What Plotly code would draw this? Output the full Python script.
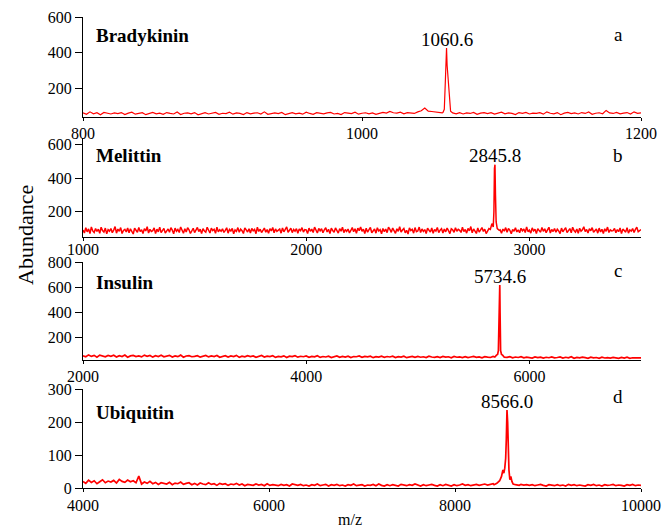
import numpy as np
import plotly.graph_objects as go

# ---------------- data ----------------
panel_names = ["Bradykinin", "Melittin", "Insulin", "Ubiquitin"]
panel_letters = ["a", "b", "c", "d"]
peak_labels = ["1060.6", "2845.8", "5734.6", "8566.0"]

# baseline noise grids (start, step) and intensities
a_start, a_step = 800, 2.5
a_noise = [60,52,66,55,61,50,63,57,54,60,
           56,62,51,59,64,53,58,61,50,57,
           63,55,59,52,62,57,54,65,51,58,
           60,55,62,49,57,61,54,59,63,52,
           58,56,64,53,60,57,51,62,55,59,
           61,54,66,52,58,60,56,63,50,57,
           62,55,59,53,64,57,52,61,58,55,
           60,63,54,57,51,62,59,56,64,53,
           58,61,55,60,52,57,63,59,68,61,
           59,64,55,62,58,57,66,72,88,70,
           68,64,62,60,62,60,58,55,61,54,
           60,57,63,52,59,62,56,61,53,58,
           64,55,60,57,51,62,58,63,54,59,
           57,61,53,66,58,55,62,50,59,63,
           56,60,54,62,57,65,52,58,61,55,
           74,60,57,63,55,59,62,54,66,58,
           60]
a_peak_mz = [1058.0, 1059.0, 1059.8, 1060.3, 1060.6, 1061.0, 1061.4, 1061.9, 1062.5, 1063.5, 1065.0]
a_peak_int = [62, 80, 250, 400, 425, 330, 280, 260, 140, 70, 60]

b_start, b_step = 1000, 6.25
b_noise = [92,74,105,81,98,70,110,86,77,101,
           83,96,72,108,88,79,103,69,94,85,
           100,76,91,112,73,97,84,106,71,89,
           95,80,104,75,99,87,68,102,90,78,
           107,82,93,71,100,86,111,74,96,83,
           88,104,70,97,81,109,76,92,101,73,
           85,98,78,106,91,69,103,84,95,77,
           110,87,72,99,80,105,93,71,88,102,
           76,94,107,82,97,70,100,86,79,108,
           91,74,103,88,96,72,109,81,93,84,
           99,77,90,105,73,95,86,101,69,92,
           83,106,78,97,88,71,104,92,80,99,
           74,101,87,95,70,108,83,96,77,90,
           103,79,94,72,100,86,107,75,98,84,
           89,97,73,104,81,93,110,78,91,102,
           76,95,85,100,72,98,88,106,79,94,
           92,71,103,84,97,77,109,86,74,101,
           87,99,75,93,105,80,96,70,102,89,
           78,104,91,73,100,85,108,76,95,83,
           97,74,89,106,81,99,72,103,88,110,
           84,96,71,102,79,93,107,75,90,98,
           73,105,86,94,69,101,82,97,76,108,
           95,78,103,87,72,99,84,111,80,92,
           101,75,90,68,104,88,96,73,106,82,
           86,109,77,98,83,94,71,102,89,79,
           104,72,95,85,107,76,91,100,74,97,
           81,103,88,70,99,93,78,105,84,96,
           90,77,108,82,95,73,101,87,112,75,
           98,84,71,104,79,92,106,83,97,70,
           87,100,76,94,109,81,89,74,103,93,
           72,97,85,106,78,101,90,69,95,84,
           105,80,93,75,102,87,98,77,110,82,
           91,73,104,86,96,71,100,88,79,107,
           84,99,76,92,108,74,95,83,101,78,
           97,86,70,103,81,94,105,76,89,100,
           75,108,88,79,97,72,102,85,93,111,
           82,95,74,100,87,106,78,91,98,73,
           103,80,96,71,99,84,109,77,92,86,
           88,101,75,94,82,104,70,97,89,79,
           106,73,92,85,100,77,95,108,81,90,
           94]
b_peak_mz = [2825, 2832, 2838, 2841, 2843.5, 2845.8, 2848, 2851, 2856, 2865]
b_peak_int = [95, 130, 110, 200, 460, 481, 300, 140, 100, 90]

c_start, c_step = 2000, 25
c_noise = [50,42,57,45,53,39,55,47,41,52,
           46,54,40,51,44,56,38,49,53,43,
           48,41,55,45,52,39,50,44,54,42,
           47,53,40,49,43,55,38,48,51,42,
           45,51,39,47,53,41,49,44,52,38,
           46,50,40,48,43,53,37,47,42,51,
           44,49,38,46,52,40,47,43,50,37,
           45,41,49,36,47,43,51,39,46,42,
           48,38,45,41,50,37,44,40,47,36,
           43,49,38,45,40,47,36,44,42,48,
           37,45,41,47,35,43,39,46,38,44,
           40,46,36,43,39,47,35,42,45,37,
           44,38,42,35,46,40,37,43,36,45,
           39,42,34,44,38,41,36,43,35,40,
           45,37,41,34,43,39,36,44,38,42,
           35,41,37,43,34,40,36,42,33,39,
           37,32,41,35,39,31,38,34,40,33,
           36,40,31,38,34,42,30,37,33,39,
           35,30,38,33,36,29,39,32,35,31,
           37,33,29,36,31,38,30,34,32,36,
           33]
c_peak_mz = [5690, 5705, 5715, 5722, 5728, 5732, 5734.6, 5737, 5742, 5750, 5760, 5775]
c_peak_int = [40, 55, 60, 90, 300, 600, 616, 400, 90, 60, 55, 38]

d_start, d_step = 4000, 30
d_noise = [20,14,24,17,22,13,19,25,16,21,
           18,23,15,26,20,17,24,19,22,16,
           36,12,18,14,20,13,17,11,16,14,
           12,17,10,15,13,18,11,14,16,10,
           14,9,15,12,10,16,11,13,8,14,
           11,13,8,12,10,14,9,12,7,11,
           10,8,12,9,11,7,13,8,10,9,
           7,11,8,10,6,12,9,8,11,7,
           9,6,10,8,12,7,9,11,6,10,
           8,11,7,9,6,10,8,12,7,9,
           10,6,9,8,11,7,12,8,6,10,
           7,10,8,6,11,9,7,10,8,12,
           9,6,10,7,9,11,8,6,10,7,
           11,8,6,10,7,9,12,8,10,7,
           9,11,8,10,12,9,11,13,10,12,
           14,16,18,20,14,12,10,11,9,10,
           8,10,7,9,11,8,6,10,9,7,
           10,7,9,6,11,8,10,7,9,8,
           6,10,8,11,7,9,6,10,8,9,
           11,7,9,8,6,10,8,11,7,9,
           8]
d_peak_mz = [8420, 8450, 8480, 8500, 8515, 8525, 8535, 8545, 8552, 8559, 8566, 8573, 8580, 8590, 8600, 8612, 8625, 8650, 8690]
d_peak_int = [10, 14, 22, 35, 55, 45, 60, 90, 150, 236, 200, 120, 55, 25, 35, 20, 12, 10, 8]

x_ranges = [[800, 1200], [1000, 3500], [2000, 7000], [4000, 10000]]
x_ticks = [[800, 1000, 1200], [1000, 2000, 3000], [2000, 4000, 6000], [4000, 6000, 8000, 10000]]
y_ranges = [[37, 600], [50, 640], [16, 800], [0, 300]]
y_ticks = [[200, 400, 600], [200, 400, 600], [200, 400, 600, 800], [0, 100, 200, 300]]

# ---------------- layout constants ----------------
W, H = 662, 528
ML, MR = 83, 21
PW = W - ML - MR
panel_px = [(17, 117), (138, 237), (262, 360), (389, 488)]
name_py = [35, 155, 282, 412]
letter_py = [34, 155, 271, 396]
line_widths = [1.2, 1.5, 1.7, 1.7]
xlabel_standoff = [-1, -5, -1, 0]

FONT = "Liberation Serif"
RED = "#ff0000"

spectra = [
    (a_start, a_step, a_noise, a_peak_mz, a_peak_int),
    (b_start, b_step, b_noise, b_peak_mz, b_peak_int),
    (c_start, c_step, c_noise, c_peak_mz, c_peak_int),
    (d_start, d_step, d_noise, d_peak_mz, d_peak_int),
]

fig = go.Figure()
annotations = []
for i, (st, sp, noise, pmz, pint) in enumerate(spectra):
    k = "" if i == 0 else str(i + 1)
    grid = st + sp * np.arange(len(noise))
    noise = np.array(noise, dtype=float)
    keep = (grid < pmz[0]) | (grid > pmz[-1])
    x = np.concatenate([grid[keep], np.array(pmz, dtype=float)])
    y = np.concatenate([noise[keep], np.array(pint, dtype=float)])
    order = np.argsort(x)
    fig.add_trace(go.Scatter(x=x[order], y=y[order], mode="lines",
                             line=dict(color=RED, width=line_widths[i]),
                             xaxis="x" + k, yaxis="y" + k,
                             hoverinfo="skip", showlegend=False))
    top, bot = panel_px[i]
    dom = [(H - bot) / H, (H - top) / H]
    fig.update_layout(**{
        "xaxis" + k: dict(domain=[0, 1], range=x_ranges[i], anchor="y" + k,
                          tickvals=x_ticks[i], ticktext=[str(v) for v in x_ticks[i]],
                          showline=True, linecolor="black", linewidth=1,
                          ticks="outside", ticklen=3, tickcolor="black",
                          ticklabelstandoff=xlabel_standoff[i],
                          showgrid=False, zeroline=False,
                          tickfont=dict(family=FONT, size=16, color="black")),
        "yaxis" + k: dict(domain=dom, range=y_ranges[i], anchor="x" + k,
                          tickvals=y_ticks[i],
                          showline=True, linecolor="black", linewidth=1,
                          ticks="outside", ticklen=7, tickcolor="black",
                          showgrid=False, zeroline=False, automargin=False,
                          tickfont=dict(family=FONT, size=16, color="black")),
    })
    annotations.append(dict(xref="paper", yref="paper", x=(94 - ML) / PW, y=(H - name_py[i]) / H,
                            xanchor="left", yanchor="middle", showarrow=False,
                            text="<b>" + panel_names[i] + "</b>",
                            font=dict(family=FONT, size=19, color="black")))
    annotations.append(dict(xref="paper", yref="paper", x=(618 - ML) / PW, y=(H - letter_py[i]) / H,
                            xanchor="center", yanchor="middle", showarrow=False,
                            text=panel_letters[i],
                            font=dict(family=FONT, size=19, color="black")))
    pk = int(np.argmax(pint))
    annotations.append(dict(xref="x" + k, yref="y" + k, x=pmz[pk], y=pint[pk],
                            xanchor="center", yanchor="middle", yshift=9, showarrow=False,
                            text=peak_labels[i],
                            font=dict(family=FONT, size=19, color="black")))

annotations.append(dict(xref="paper", yref="paper", x=(25 - ML) / PW, y=(H - 235) / H,
                        xanchor="center", yanchor="middle", showarrow=False, textangle=-90,
                        text="Abundance", font=dict(family=FONT, size=22, color="black")))
annotations.append(dict(xref="paper", yref="paper", x=(350 - ML) / PW, y=(H - 519) / H,
                        xanchor="center", yanchor="middle", showarrow=False,
                        text="m/z", font=dict(family=FONT, size=16, color="black")))

fig.update_layout(width=W, height=H, margin=dict(l=ML, r=MR, t=0, b=0, autoexpand=False),
                  paper_bgcolor="white", plot_bgcolor="white",
                  annotations=annotations, showlegend=False)

fig.write_html("out.html", config={"displayModeBar": False},
               post_script="document.body.style.margin='0px';")
